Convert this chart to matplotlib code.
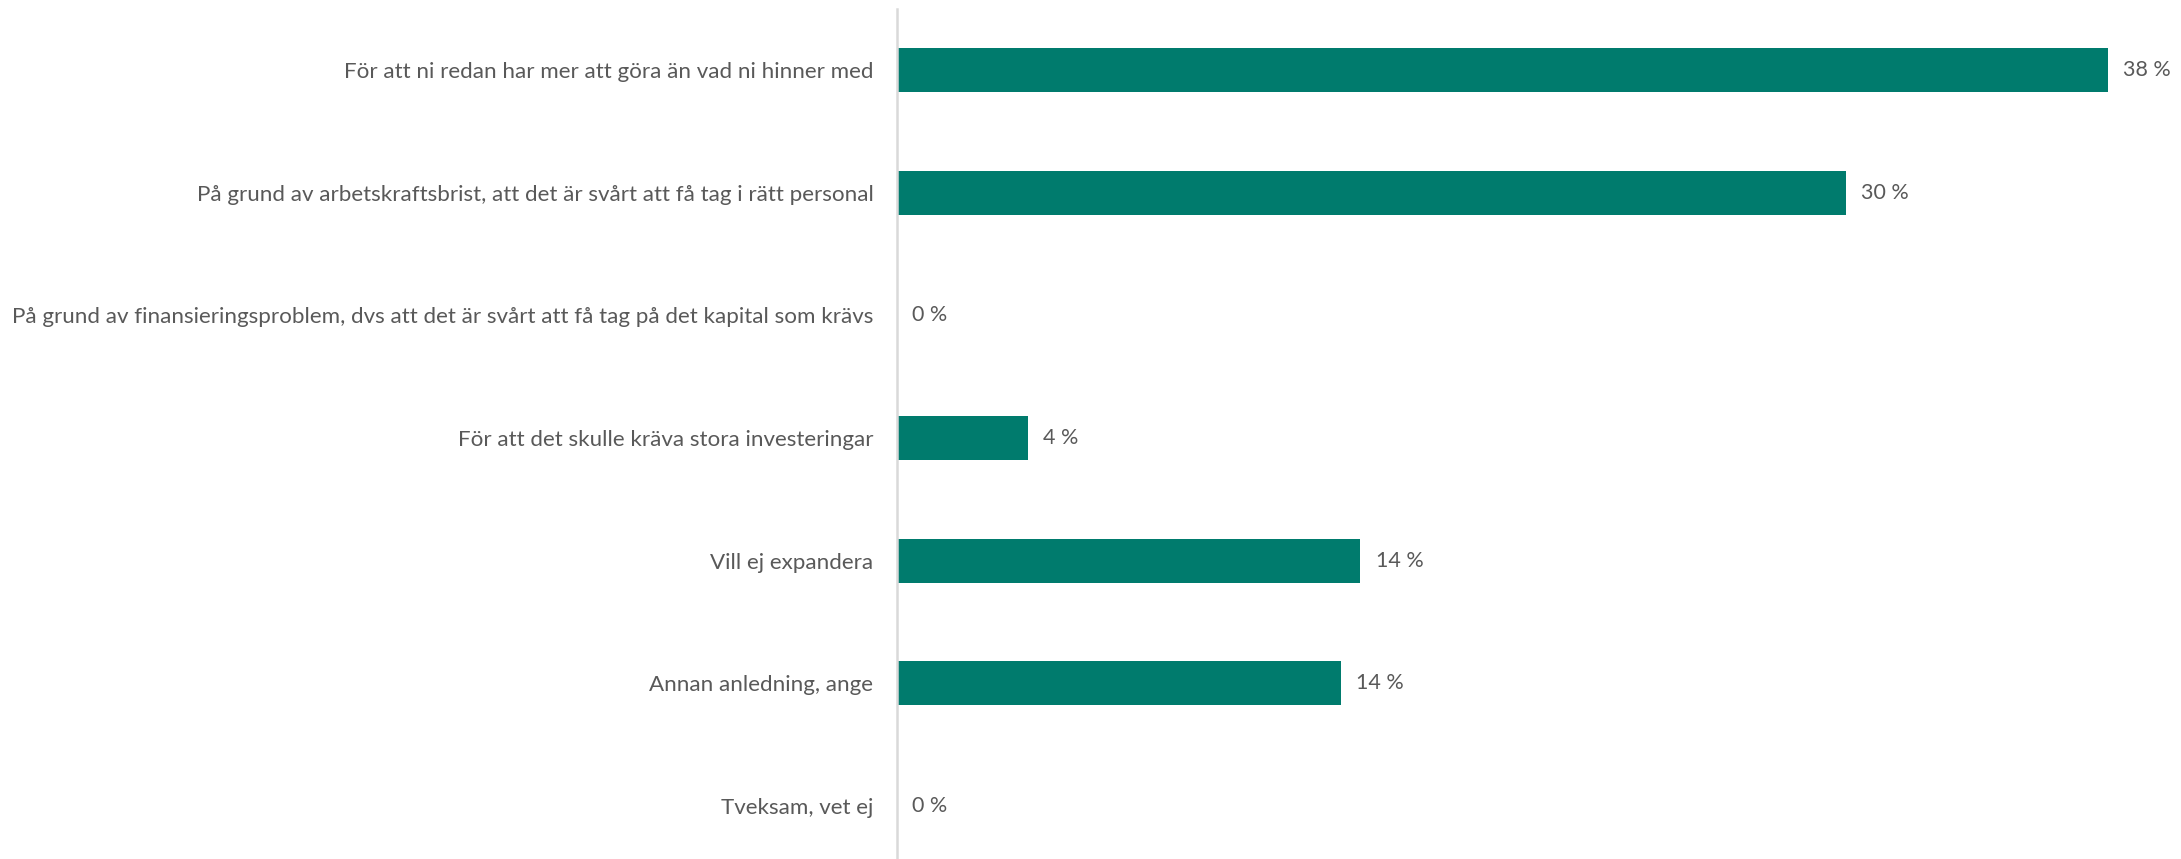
import matplotlib.pyplot as plt
import numpy as np

plt.rcParams['font.family'] = ['Lato', 'DejaVu Sans']

# Reasons (top to bottom) and shares in percent
categories = [
    'För att ni redan har mer att göra än vad ni hinner med',
    'På grund av arbetskraftsbrist, att det är svårt att få tag i rätt personal',
    'På grund av finansieringsproblem, dvs att det är svårt att få tag på det kapital som krävs',
    'För att det skulle kräva stora investeringar',
    'Vill ej expandera',
    'Annan anledning, ange',
    'Tveksam, vet ej',
]
values = [37.9, 29.7, 0.0, 4.1, 14.5, 13.9, 0.0]

bar_color = '#007B6D'
text_color = '#595959'

fig = plt.figure(figsize=(21.81, 8.59), dpi=100)
# axes spans from y=9 px at the top to a bit past the bottom edge
ax = fig.add_axes([897 / 2181, -8 / 859, (2175 - 897) / 2181, 858 / 859])

y = np.arange(len(categories))
ax.barh(y, values, height=0.36, color=bar_color)
ax.set_ylim(len(categories) - 0.5, -0.5)
ax.set_xlim(0, 40)

for i, v in enumerate(values):
    ax.annotate(f"{v:.0f} %", (v, i), xytext=(11, 0), textcoords='offset points',
                va='center', ha='left', fontsize=15.5, color=text_color)

ax.set_yticks(y)
ax.set_yticklabels(categories, fontsize=16.1, color=text_color)
ax.tick_params(axis='y', length=0, pad=17)
ax.set_xticks([])

for side in ['top', 'right', 'bottom']:
    ax.spines[side].set_visible(False)
ax.spines['left'].set_color('#D9D9D9')
ax.spines['left'].set_linewidth(1.8)

fig.savefig('out.png', dpi=100)
